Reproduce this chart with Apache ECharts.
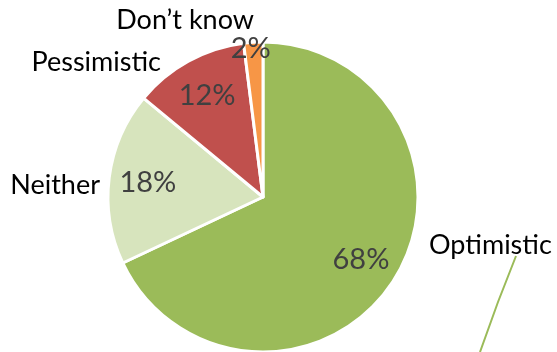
<!DOCTYPE html>
<html>
<head>
<meta charset="utf-8">
<script src="https://cdn.jsdelivr.net/npm/echarts@6/dist/echarts.min.js"></script>
<style>
  html, body { margin: 0; padding: 0; background: #fff; }
  #chart { width: 557px; height: 352px; }
</style>
</head>
<body>
<div id="chart"></div>
<script>
// Survey outlook shares, in percent
const categories = ['Optimistic', 'Neither', 'Pessimistic', 'Don\u2019t know'];
const shares = [68, 18, 12, 2];
const sliceColors = ['#9BBB59', '#D7E4BD', '#C0504D', '#F79646'];

const FONT = 'Lato';

// Category name positions beside the pie
const namePlacement = [
  { x: 429, y: 245, align: 'left' },
  { x: 100, y: 185, align: 'right' },
  { x: 161, y: 62, align: 'right' },
  { x: 254, y: 20, align: 'right' }
];

const chart = echarts.init(document.getElementById('chart'), null, { renderer: 'canvas' });

const pieData = categories.map((name, i) => ({
  name: name,
  value: shares[i],
  itemStyle: { color: sliceColors[i] },
  labelLine: { show: i === 0, lineStyle: { color: '#9BBB59', width: 2 } }
}));

chart.setOption({
  animation: false,
  series: [
    {
      // Slices with category names outside
      type: 'pie',
      center: [263, 197],
      radius: [0, 155],
      startAngle: 90,
      clockwise: true,
      avoidLabelOverlap: false,
      itemStyle: { borderColor: '#fff', borderWidth: 3 },
      label: {
        show: true,
        position: 'outside',
        formatter: '{b}',
        color: '#000',
        fontFamily: FONT,
        fontSize: 27
      },
      labelLine: { show: false },
      labelLayout: function (params) {
        const p = namePlacement[params.dataIndex];
        const out = { x: p.x, y: p.y, align: p.align, verticalAlign: 'middle' };
        if (params.dataIndex === 0) {
          out.labelLinePoints = [[480, 352], [498, 302], [516, 256]];
        }
        return out;
      },
      data: pieData
    },
    {
      // Percentage labels inside the slices
      type: 'pie',
      silent: true,
      center: [263, 197],
      radius: [71, 155],
      startAngle: 90,
      clockwise: true,
      itemStyle: { color: 'rgba(0,0,0,0)' },
      label: {
        show: true,
        position: 'inside',
        formatter: '{c}%',
        color: '#404040',
        fontFamily: FONT,
        fontSize: 29
      },
      labelLayout: function (params) {
        if (params.dataIndex === 3) return { dx: -5, dy: -33 };
        return {};
      },
      data: categories.map((name, i) => ({ name: name, value: shares[i] }))
    }
  ]
});
</script>
</body>
</html>
